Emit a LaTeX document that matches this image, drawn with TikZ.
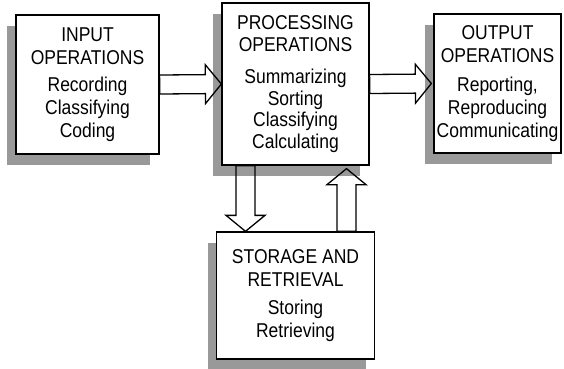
\documentclass[tikz,border=0pt]{standalone}
\usepackage{fontspec}
\setmainfont{Liberation Sans}[FakeStretch=0.875]
\usetikzlibrary{shadows,calc}
\tikzset{
  box/.style={draw,line width=1.3pt,fill=white,inner sep=1pt,align=center,
    font=\fontsize{20}{22.8}\selectfont,
    drop shadow={shadow xshift=-9pt,shadow yshift=-11pt,fill=black!40,opacity=1}},
  fatarrow/.style={draw,line width=1.3pt,fill=white,to path={
    let \p1=(\tikztostart), \p2=(\tikztotarget),
        \n1={atan2(\y2-\y1,\x2-\x1)}, \n2={veclen(\x2-\x1,\y2-\y1)} in
    {[shift={(\p1)},rotate=\n1]
      (0pt,9.5pt) -- (\n2-16pt,9.5pt) -- (\n2-16pt,19.5pt) -- (\n2,0pt)
      -- (\n2-16pt,-19.5pt) -- (\n2-16pt,-9.5pt) -- (0pt,-9.5pt) -- cycle}}}
}
\begin{document}
\begin{tikzpicture}[x=1pt,y=-1pt]
      \useasboundingbox (0,0) rectangle (564,368);
      \node[box,minimum width=143pt,minimum height=139pt] (in) at (87.5,84.5)
        {INPUT\\OPERATIONS\\[5pt]Recording\\Classifying\\Coding};
      \node[box,minimum width=147pt,minimum height=162pt,
        font=\fontsize{20}{21.6}\selectfont] (proc) at (295.5,84)
        {PROCESSING\\OPERATIONS\\[11pt]Summarizing\\Sorting\\Classifying\\Calculating};
      \node[box,minimum width=127pt,minimum height=139pt] (out) at (497.5,83.5)
        {OUTPUT\\OPERATIONS\\[6pt]Reporting,\\Reproducing\\Communicating};
      \node[box,minimum width=158pt,minimum height=127pt] (store) at (295.5,295.5)
        {STORAGE AND\\RETRIEVAL\\[6pt]Storing\\Retrieving};
      \begin{scope}[fatarrow]
        \draw (in.east) to (proc.west);
        \draw (proc.east) to ([xshift=-2pt]out.west);
        \draw ([xshift=-50pt]proc.south) to ([xshift=-50pt]store.north);
        \draw ([xshift=51pt]store.north) to ([xshift=51pt,yshift=-3pt]proc.south);
      \end{scope}
    \end{tikzpicture}
\end{document}
